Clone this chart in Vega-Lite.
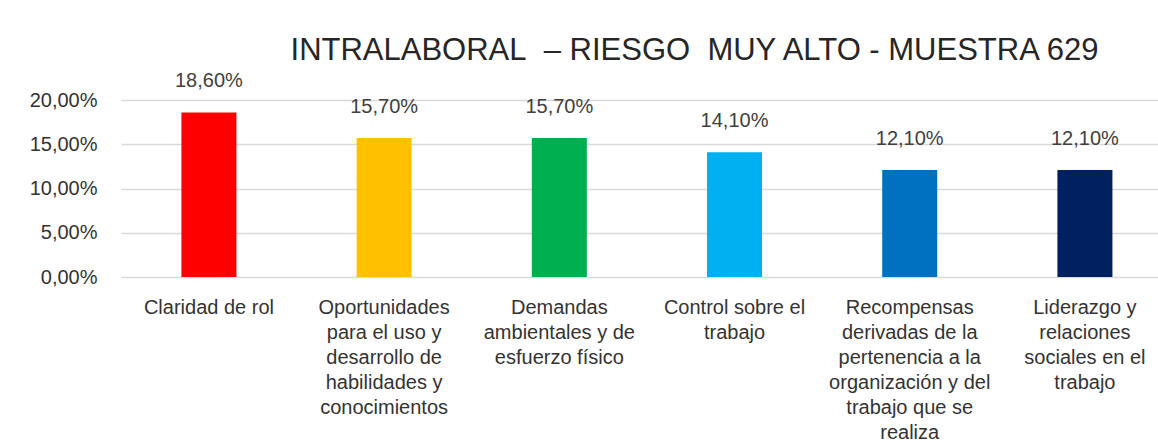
{
  "$schema": "https://vega.github.io/schema/vega-lite/v6.json",
  "width": 1037,
  "height": 177,
  "autosize": {"type": "none"},
  "padding": {"left": 121, "top": 100, "right": 0, "bottom": 170},
  "background": "white",
  "config": {
    "locale": {"number": {"decimal": ",", "thousands": ".", "grouping": [3], "currency": ["", " €"]}},
    "view": {"stroke": null},
    "font": "Liberation Sans"
  },
  "title": {
    "text": "INTRALABORAL\u00a0 – RIESGO\u00a0 MUY ALTO - MUESTRA 629",
    "font": "Liberation Sans",
    "fontSize": 31,
    "fontWeight": "normal",
    "color": "#262626",
    "anchor": "middle",
    "dx": 55,
    "dy": 34,
    "offset": 38
  },
  "data": {
    "values": [
      {"dim": "Claridad de rol", "value": 0.186},
      {"dim": "Oportunidades\npara el uso y\ndesarrollo de\nhabilidades y\nconocimientos", "value": 0.157},
      {"dim": "Demandas\nambientales y de\nesfuerzo físico", "value": 0.157},
      {"dim": "Control sobre el\ntrabajo", "value": 0.141},
      {"dim": "Recompensas\nderivadas de la\npertenencia a la\norganización y del\ntrabajo que se\nrealiza", "value": 0.121},
      {"dim": "Liderazgo y\nrelaciones\nsociales en el\ntrabajo", "value": 0.121}
    ]
  },
  "encoding": {
    "x": {
      "field": "dim",
      "type": "nominal",
      "sort": null,
      "scale": {"paddingInner": 0.686, "paddingOuter": 0.3025, "align": 0.57},
      "axis": {
        "title": null,
        "labelAngle": 0,
        "labelExpr": "split(datum.label, '\\n')",
        "labelFontSize": 20,
        "labelLineHeight": 25,
        "labelColor": "#333333",
        "labelPadding": 20,
        "labelLimit": 250,
        "labelOverlap": false,
        "ticks": false,
        "domain": false
      }
    }
  },
  "layer": [
    {
      "mark": {"type": "bar"},
      "encoding": {
        "y": {
          "field": "value",
          "type": "quantitative",
          "scale": {"domain": [0, 0.2]},
          "axis": {
            "title": null,
            "values": [0, 0.05, 0.1, 0.15, 0.2],
            "format": ".2%",
            "domain": false,
            "ticks": false,
            "labelPadding": 24,
            "labelFontSize": 20,
            "labelColor": "#333333",
            "gridColor": "#d9d9d9",
            "gridWidth": 1.3
          }
        },
        "color": {
          "field": "dim",
          "type": "nominal",
          "sort": null,
          "scale": {"range": ["#FF0000", "#FFC000", "#00B050", "#00B0F0", "#0070C0", "#002060"]},
          "legend": null
        }
      }
    },
    {
      "mark": {"type": "text", "dy": -25, "baseline": "alphabetic", "fontSize": 20, "color": "#404040"},
      "encoding": {
        "y": {"field": "value", "type": "quantitative"},
        "text": {"field": "value", "type": "quantitative", "format": ".2%"}
      }
    }
  ]
}
